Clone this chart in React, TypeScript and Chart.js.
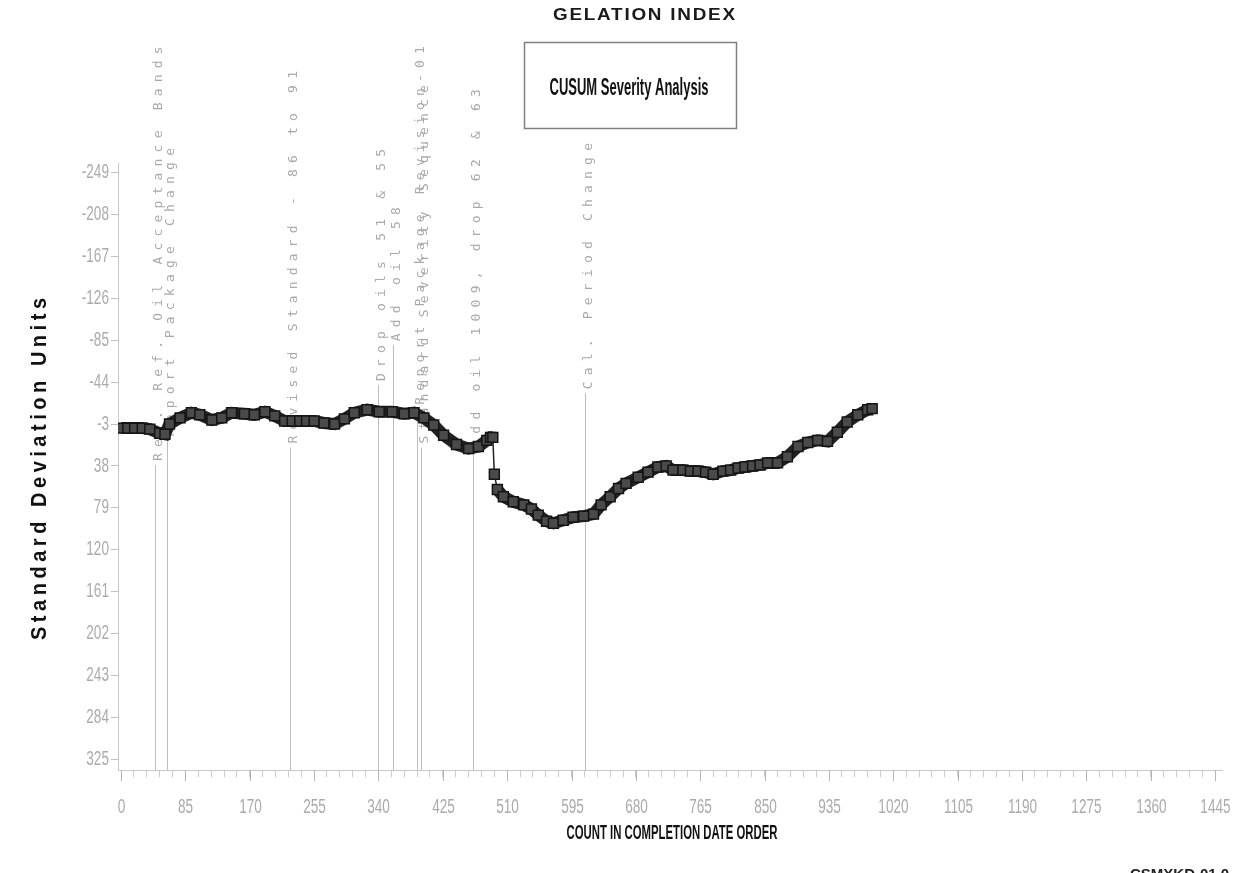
import React, { useEffect, useRef } from "react";
import { Chart, registerables } from "chart.js";

Chart.register(...registerables);

// ---------- texts ----------
const chartTitle = "GELATION INDEX";
const boxTitle = "CUSUM Severity Analysis";
const xTitle = "COUNT IN COMPLETION DATE ORDER";
const yTitle = "Standard Deviation Units";
const footerCode = "CSMXKD-01.0";

// ---------- CUSUM series (count in completion order, SD units) ----------
const counts = [
  0, 9, 18, 28, 38, 51, 58, 64, 78, 93, 104, 120, 133, 146, 163, 176, 190, 203,
  216, 226, 236, 245, 255, 268, 282, 295, 308, 325, 341, 358, 374, 387, 400, 413,
  426, 443, 459, 472, 483, 488, 491, 493, 497, 505, 518, 532, 542, 551, 562, 571,
  584, 597, 611, 624, 634, 646, 657, 667, 683, 696, 709, 720, 729, 742, 752, 762,
  772, 782, 795, 805, 815, 824, 834, 844, 854, 867, 880, 894, 907, 920, 933, 946,
  959, 973, 986, 992,
];
const cusum = [
  1, 1, 1, 1, 2, 6, 7, -3, -9, -14, -12, -7, -9, -14, -13, -12, -15, -11,
  -6, -6, -6, -6, -6, -4, -3, -8, -14, -17, -15, -15, -13, -14, -9, -2,
  8, 17, 21, 19, 13, 10, 10, 46, 61, 68, 73, 76, 80, 86, 92, 94,
  91, 88, 87, 85, 76, 68, 60, 55, 49, 44, 39, 38, 42, 42, 43, 43,
  44, 46, 43, 42, 40, 39, 38, 37, 35, 35, 29, 19, 15, 13, 14, 5,
  -5, -12, -17, -18,
];

// ---------- axes ----------
const yTickValues = [-249, -208, -167, -126, -85, -44, -3, 38, 79, 120, 161, 202, 243, 284, 325];
const xTickLabels = [0, 85, 170, 255, 340, 425, 510, 595, 680, 765, 850, 935, 1020, 1105, 1190, 1275, 1360, 1445];
const xMinorPerMajor = 5;

// ---------- event annotations ----------
const eventCounts = [45, 61, 223, 340, 359, 391, 396, 465, 613];
const eventTops = [37, 13, 20, -41, -80, -18, 20, 24, -33];
const eventLabels = [
  "Rev. Ref. Oil Acceptance Bands",
  "Report Package Change",
  "Revised Standard - 86 to 91",
  "Drop oils 51 & 55",
  "Add oil 58",
  "Report Package Revision-01",
  "Standard Severity Sequence",
  "Add oil 1009, drop 62 & 63",
  "Cal. Period Change",
];

const SANS = '"Liberation Sans", Arial, sans-serif';

function fitText(
  ctx: CanvasRenderingContext2D,
  text: string,
  cx: number,
  cy: number,
  width: number,
  font: string,
  color: string,
  spacing: number,
  rotate = 0
) {
  ctx.save();
  ctx.font = font;
  (ctx as any).letterSpacing = spacing + "px";
  const w = ctx.measureText(text).width - spacing;
  ctx.translate(cx, cy);
  if (rotate) ctx.rotate(rotate);
  ctx.scale(width / w, 1);
  ctx.fillStyle = color;
  ctx.textAlign = "left";
  ctx.textBaseline = "middle";
  ctx.fillText(text, -w / 2, 0);
  ctx.restore();
}

function squeezeText(
  ctx: CanvasRenderingContext2D,
  text: string,
  x: number,
  y: number,
  sx: number,
  align: "right" | "center"
) {
  ctx.save();
  ctx.translate(x, y);
  ctx.scale(sx, 1);
  ctx.textAlign = align;
  ctx.textBaseline = "middle";
  ctx.fillText(text, 0, 0);
  ctx.restore();
}

const overlayPlugin = {
  id: "overlay",
  beforeDatasetsDraw(chart: any) {
    const { ctx, scales, chartArea } = chart;
    const x = scales.x;
    const y = scales.y;
    ctx.save();
    eventCounts.forEach((c, i) => {
      const px = Math.round(x.getPixelForValue(c)) + 0.5;
      const top = y.getPixelForValue(eventTops[i]);
      ctx.strokeStyle = "#bdbdbd";
      ctx.lineWidth = 1;
      ctx.beginPath();
      ctx.moveTo(px, top);
      ctx.lineTo(px, chartArea.bottom);
      ctx.stroke();
      ctx.save();
      ctx.translate(px + 3, top - 4);
      ctx.rotate(-Math.PI / 2);
      ctx.font = '13px "DejaVu Sans Mono", monospace';
      (ctx as any).letterSpacing = "6.2px";
      ctx.fillStyle = "#a9a9a9";
      ctx.textAlign = "left";
      ctx.textBaseline = "middle";
      ctx.fillText(eventLabels[i], 0, 0);
      ctx.restore();
    });
    ctx.restore();
  },
  afterDraw(chart: any) {
    const { ctx, scales, chartArea } = chart;
    const x = scales.x;
    const y = scales.y;
    ctx.save();
    // tick labels (condensed look)
    ctx.font = "20px " + SANS;
    ctx.fillStyle = "#ababab";
    yTickValues.forEach((v) => {
      squeezeText(ctx, String(v), 109, y.getPixelForValue(v), 0.68, "right");
    });
    ctx.strokeStyle = "#b5b5b5";
    ctx.lineWidth = 1;
    xTickLabels.forEach((v) => {
      const px = Math.round(x.getPixelForValue(v)) + 0.5;
      ctx.beginPath();
      ctx.moveTo(px, chartArea.bottom);
      ctx.lineTo(px, chartArea.bottom + 11);
      ctx.stroke();
      squeezeText(ctx, String(v), px, 807, 0.68, "center");
    });
    // main title
    fitText(ctx, chartTitle, 644, 16, 182, "bold 16px " + SANS, "#1a1a1a", 1.5);
    // box
    ctx.strokeStyle = "#808080";
    ctx.lineWidth = 1.5;
    ctx.strokeRect(524.5, 42.5, 212, 86);
    fitText(ctx, boxTitle, 629, 88, 159, "bold 24px " + SANS, "#111", 0);
    // axis titles
    fitText(ctx, xTitle, 672, 833, 211, "bold 21px " + SANS, "#111", 0);
    fitText(ctx, yTitle, 40, 469, 342, "bold 22px " + SANS, "#111", 5, -Math.PI / 2);
    // footer code (cut by page edge)
    ctx.font = "bold 15px " + SANS;
    ctx.fillStyle = "#222";
    ctx.textAlign = "left";
    ctx.textBaseline = "alphabetic";
    ctx.save();
    ctx.translate(1130, 879);
    ctx.scale(1.0, 1);
    ctx.fillText(footerCode, 0, 0);
    ctx.restore();
    ctx.restore();
  },
};

export default function App() {
  const ref = useRef<HTMLCanvasElement | null>(null);

  useEffect(() => {
    if (!ref.current) return;
    const points = counts.map((c, i) => ({ x: c, y: cusum[i] }));
    const xTicks: number[] = [];
    for (let i = 0; i < xTickLabels.length; i++) {
      xTicks.push(xTickLabels[i]);
      if (i < xTickLabels.length - 1) {
        const step = (xTickLabels[i + 1] - xTickLabels[i]) / xMinorPerMajor;
        for (let k = 1; k < xMinorPerMajor; k++) xTicks.push(xTickLabels[i] + k * step);
      }
    }
    const chart = new Chart(ref.current, {
      type: "line",
      data: {
        datasets: [
          {
            data: points,
            borderColor: "#222222",
            borderWidth: 12,
            tension: 0,
            pointStyle: "rect",
            pointRadius: 7,
            pointBackgroundColor: "#4a4a4a",
            pointBorderColor: "#141414",
            pointBorderWidth: 1.5,
            segment: {
              borderWidth: (c: any) => (Math.abs(c.p1.parsed.y - c.p0.parsed.y) > 12 ? 1.5 : 12),
            },
          } as any,
        ],
      },
      options: {
        responsive: false,
        animation: false,
        events: [],
        layout: { padding: { top: 163, right: 12, left: 0, bottom: 0 } },
        plugins: { legend: { display: false }, tooltip: { enabled: false }, title: { display: false } },
        scales: {
          x: {
            type: "linear",
            min: -4,
            max: 1454,
            afterBuildTicks: (s: any) => {
              s.ticks = xTicks.map((v) => ({ value: v }));
            },
            afterFit: (s: any) => {
              s.height = 103;
            },
            grid: {
              drawOnChartArea: false,
              drawTicks: true,
              tickLength: 7,
              tickColor: "#cccccc",
            },
            border: { display: true, color: "#c8c8c8", width: 1 },
            ticks: { display: false, autoSkip: false, maxRotation: 0 },
          },
          y: {
            type: "linear",
            reverse: true,
            min: -258,
            max: 335,
            afterBuildTicks: (s: any) => {
              s.ticks = yTickValues.map((v) => ({ value: v }));
            },
            afterFit: (s: any) => {
              s.width = 118;
            },
            grid: { drawOnChartArea: false, tickLength: 7, tickColor: "#c0c0c0" },
            border: { display: true, color: "#c8c8c8", width: 1 },
            ticks: { display: false },
          },
        },
      },
      plugins: [overlayPlugin],
    });
    return () => chart.destroy();
  }, []);

  return (
    <div style={{ position: "absolute", left: 0, top: 0, width: 1234, height: 873, background: "#fff" }}>
      <canvas ref={ref} width={1234} height={873} style={{ width: 1234, height: 873, display: "block" }} />
    </div>
  );
}
